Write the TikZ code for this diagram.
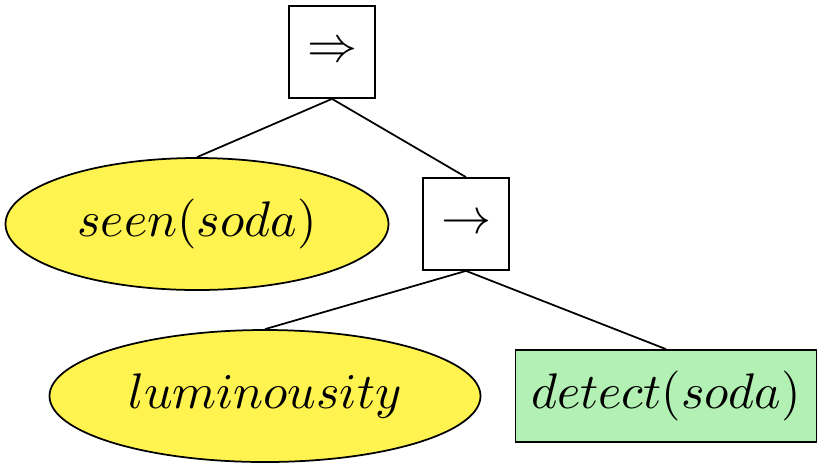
\documentclass[tikz,border=0pt]{standalone}
\usetikzlibrary{shapes.geometric}
\definecolor{yel}{HTML}{FFF44F}
\definecolor{grn}{HTML}{B3F0B3}
\begin{document}
\begin{tikzpicture}[x=0.2pt,y=-0.2pt,
  opbox/.style={draw,line width=0.35pt,minimum width=17.2pt,minimum height=18.4pt,inner sep=0pt},
  cond/.style={draw,ellipse,fill=yel,line width=0.35pt,inner sep=0pt,minimum height=26.4pt},
  act/.style={draw,fill=grn,line width=0.35pt,inner sep=0pt,minimum width=60.2pt,minimum height=18.4pt},
  edge/.style={line width=0.35pt}]
\useasboundingbox (0,0) rectangle (823,468);
\node[opbox] (imp) at (332,52) {$\Rightarrow$};
\node[opbox] (seq) at (466,224) {$\rightarrow$};
\node[cond,minimum width=76.6pt] (seen) at (197,224) {$seen(soda)$};
\node[cond,minimum width=86.2pt] (lum) at (265,396) {$luminousity$};
\node[act] (det) at (666,396) {$detect(soda)$};
\draw[edge] (imp.south) -- (seen.north);
\draw[edge] (imp.south) -- (seq.north);
\draw[edge] (seq.south) -- (lum.north);
\draw[edge] (seq.south) -- (det.north);
\end{tikzpicture}
\end{document}
